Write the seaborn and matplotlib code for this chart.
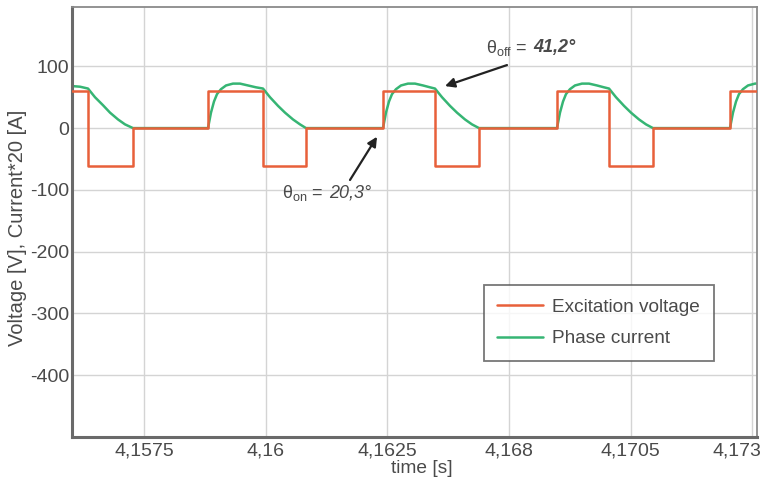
import matplotlib
matplotlib.use("Agg")
import matplotlib.pyplot as plt
import matplotlib.transforms as mtransforms
import seaborn as sns
import pandas as pd

# ---- data ----
volt_t = [4.156021, 4.156350, 4.157274, 4.158815, 4.159945, 4.160828, 4.162410,
          4.163478, 4.164382, 4.165984, 4.167053, 4.167956, 4.169538, 4.170093]
volt_v = [60, -62, 0, 60, -62, 0, 60, -62, 0, 60, -62, 0, 60, 60]

curr_t = [4.156021, 4.156185, 4.156350, 4.156493, 4.156658, 4.156802, 4.156966, 4.157110, 4.157274,
          4.158815, 4.158876, 4.158938, 4.159000, 4.159082, 4.159185, 4.159328, 4.159472, 4.159637,
          4.159801, 4.159945, 4.160088, 4.160253, 4.160397, 4.160561, 4.160705, 4.160828,
          4.162410, 4.162471, 4.162533, 4.162595, 4.162677, 4.162780, 4.162923, 4.163067, 4.163232,
          4.163375, 4.163478, 4.163622, 4.163786, 4.163930, 4.164094, 4.164238, 4.164382,
          4.165984, 4.166046, 4.166108, 4.166169, 4.166251, 4.166354, 4.166498, 4.166642, 4.166806,
          4.166950, 4.167053, 4.167196, 4.167361, 4.167504, 4.167669, 4.167813, 4.167956,
          4.169538, 4.169600, 4.169662, 4.169723, 4.169805, 4.169908, 4.170052, 4.170093]
curr_i = [68, 67, 64, 50, 37, 25, 14, 6, 0,
          0, 25, 43, 55, 63, 69, 72, 72, 69,
          66, 64, 50, 36, 25, 14, 6, 0,
          0, 25, 43, 55, 63, 69, 72, 72, 69,
          66, 64, 50, 36, 25, 14, 6, 0,
          0, 25, 43, 55, 63, 69, 72, 72, 69,
          66, 64, 50, 36, 25, 14, 6, 0,
          0, 25, 43, 55, 63, 69, 72, 72]

x_ticks = [4.1575, 4.1600, 4.1625, 4.1650, 4.1675, 4.1700]
x_tick_labels = ["4,1575", "4,16", "4,1625", "4,168", "4,1705", "4,173"]
y_ticks = [-400, -300, -200, -100, 0, 100]
y_tick_labels = ["-400", "-300", "-200", "-100", "0", "100"]

series_names = ["Excitation voltage", "Phase current"]

# ---- style ----
sns.set_style("white")
plt.rcParams["font.family"] = ["Liberation Sans", "DejaVu Sans"]
plt.rcParams["mathtext.fontset"] = "custom"
plt.rcParams["mathtext.rm"] = "Liberation Sans"
plt.rcParams["mathtext.it"] = "Liberation Sans:italic"
plt.rcParams["mathtext.bf"] = "Liberation Sans:bold"

TXT = "#4a4a4a"
ORANGE = "#e8603a"
GREEN = "#36b574"

fig = plt.figure(figsize=(7.62, 4.78), dpi=100)
ax = fig.add_axes([72 / 762, 1 - 437 / 478, (757 - 72) / 762, (437 - 7) / 478])

df_v = pd.DataFrame({"t": volt_t, "v": volt_v})
df_i = pd.DataFrame({"t": curr_t, "i": curr_i})

sns.lineplot(data=df_v, x="t", y="v", ax=ax, color=ORANGE, lw=1.8,
             drawstyle="steps-post", sort=False, estimator=None,
             label=series_names[0], zorder=3)
sns.lineplot(data=df_i, x="t", y="i", ax=ax, color=GREEN, lw=1.8,
             sort=False, estimator=None, label=series_names[1], zorder=2)

ax.set_xlim(4.156021, 4.170093)
ax.set_ylim(-500, 196)
ax.set_xticks(x_ticks)
ax.set_xticklabels(x_tick_labels)
ax.set_yticks(y_ticks)
ax.set_yticklabels(y_tick_labels)
ax.tick_params(length=0, labelsize=14, labelcolor=TXT)
ax.tick_params(axis="y", pad=2)
ax.tick_params(axis="x", pad=4)

# last x tick label sits shifted left inside the figure
last = ax.get_xticklabels()[-1]
last.set_transform(last.get_transform() + mtransforms.ScaledTranslation(-16 / 100, 0, fig.dpi_scale_trans))

ax.grid(True, color="#d4d4d4", lw=1.0)
ax.set_axisbelow(True)

for s in ["left", "bottom"]:
    ax.spines[s].set_color("#6a6a6a")
    ax.spines[s].set_linewidth(2.2)
for s in ["top", "right"]:
    ax.spines[s].set_color("#8a8a8a")
    ax.spines[s].set_linewidth(1.3)

ax.set_xlabel("time [s]", fontsize=13.8, color=TXT)
ax.xaxis.set_label_coords(0.51, -0.054)
ax.set_ylabel("Voltage [V], Current*20 [A]", fontsize=14.5, color=TXT)
ax.yaxis.set_label_coords(-0.066, 0.486)

leg = ax.legend(loc="upper left", bbox_to_anchor=((484 - 72) / 685, 1 - (285 - 7) / 430),
                borderaxespad=0, fontsize=13.7, frameon=True, fancybox=False, handlelength=2.4,
                borderpad=0.7, labelspacing=0.75, handletextpad=0.5)
leg.get_frame().set_edgecolor("#555555")
leg.get_frame().set_linewidth(1.3)
for t in leg.get_texts():
    t.set_color(TXT)

arrow_kw = dict(arrowstyle="-|>", color="#222222", lw=1.6, mutation_scale=14)

# theta_off annotation
ax.annotate("", xy=(4.163683, 68), xytext=(4.164957, 102),
            arrowprops=dict(shrinkA=0, shrinkB=0, **arrow_kw))
ax.text(4.165380, 130, "θ$_{\\rm off}$ =", ha="right", va="center",
        fontsize=13, color=TXT)
ax.annotate("41,2°", xy=(4.165380, 130), xytext=(4, 0), textcoords="offset points",
            ha="left", va="center", fontsize=13, color=TXT,
            fontstyle="italic", fontweight="bold")

# theta_on annotation
ax.annotate("", xy=(4.162287, -14), xytext=(4.161732, -84),
            arrowprops=dict(shrinkA=0, shrinkB=0, **arrow_kw))
ax.text(4.161180, -105, "θ$_{\\rm on}$ =", ha="right", va="center",
        fontsize=13, color=TXT)
ax.annotate("20,3°", xy=(4.161180, -105), xytext=(4, 0), textcoords="offset points",
            ha="left", va="center", fontsize=13, color=TXT, fontstyle="italic")

fig.savefig("out.png", dpi=100)
